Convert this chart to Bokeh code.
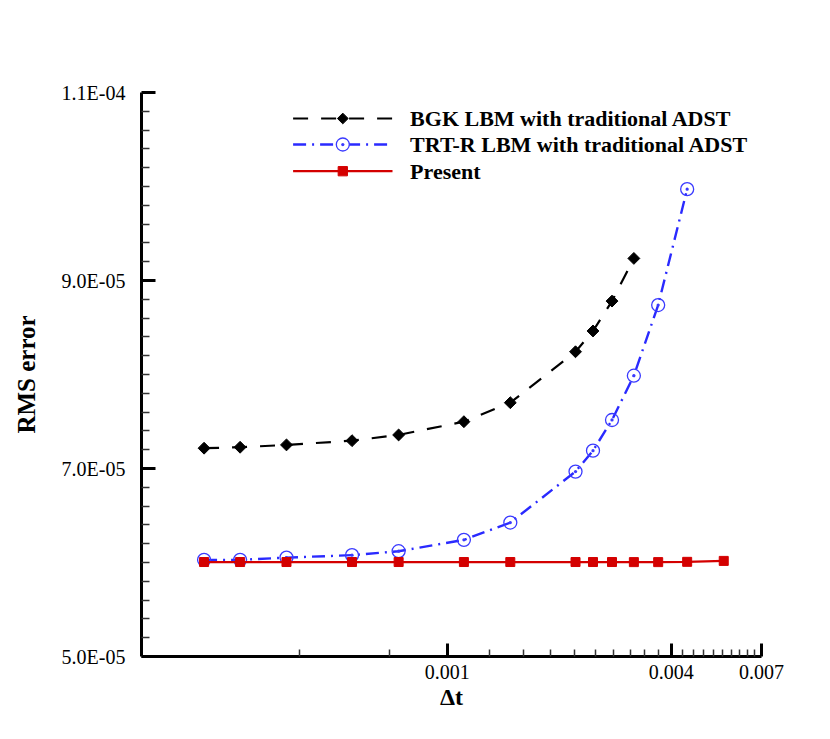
import numpy as np
from bokeh.plotting import figure
from bokeh.models import Range1d, FixedTicker, CustomJSTickFormatter, LinearScale
from bokeh.core.properties import value
from bokeh.embed import file_html
from bokeh.resources import INLINE

# ---- data ----
bgk_dt = [0.0002216, 0.000277, 0.0003692, 0.0005541, 0.0007395, 0.001108,
          0.001477, 0.002212, 0.002465, 0.002773, 0.003175]
bgk_rms = [7.216e-5, 7.226e-5, 7.251e-5, 7.296e-5, 7.357e-5, 7.498e-5,
           7.700e-5, 8.242e-5, 8.463e-5, 8.781e-5, 9.235e-5]

trt_dt = [0.0002216, 0.000277, 0.0003692, 0.0005541, 0.0007395, 0.001108,
          0.001477, 0.002212, 0.002465, 0.002773, 0.003175, 0.003691, 0.004417]
trt_rms = [6.028e-5, 6.028e-5, 6.052e-5, 6.078e-5, 6.120e-5, 6.241e-5,
           6.425e-5, 6.967e-5, 7.190e-5, 7.516e-5, 7.987e-5, 8.739e-5, 9.972e-5]

present_dt = [0.0002216, 0.000277, 0.0003692, 0.0005541, 0.0007395, 0.001108,
              0.001477, 0.002212, 0.002465, 0.002773, 0.003175, 0.003691,
              0.004417, 0.00554]
present_rms = [6.005e-5, 6.005e-5, 6.005e-5, 6.005e-5, 6.005e-5, 6.005e-5,
               6.005e-5, 6.005e-5, 6.005e-5, 6.005e-5, 6.004e-5, 6.004e-5,
               6.007e-5, 6.017e-5]

series_labels = ["BGK LBM with traditional ADST",
                 "TRT-R LBM with traditional ADST",
                 "Present"]

x_ticks = [0.001, 0.004, 0.007]
x_tick_labels = ["0.001", "0.004", "0.007"]
x_minor = [0.0004, 0.0007, 0.0013, 0.0016, 0.0019, 0.0022, 0.0025, 0.0028,
           0.0031, 0.0034, 0.0037, 0.0043, 0.0046, 0.0049, 0.0052, 0.0055,
           0.0058, 0.0061, 0.0064, 0.0067]
y_ticks = [5e-5, 7e-5, 9e-5, 1.1e-4]
y_tick_labels = ["5.0E-05", "7.0E-05", "9.0E-05", "1.1E-04"]
y_minor = [v * 1e-6 for v in range(50, 111, 2) if v not in (50, 70, 90, 110)]

FONT = "Liberation Serif"
FRAME_W, FRAME_H = 620, 564

# colours / styles
BGK_C, TRT_C, PRE_C = "black", "#2a2aff", "#d40000"
BGK_DASH, TRT_DASH = "15 13", "13 6 2 6"

p = figure(width=814, height=722, x_axis_type="log",
           x_range=Range1d(0.0001504, 0.007), y_range=Range1d(5e-5, 1.1e-4),
           output_backend="svg", toolbar_location=None,
           min_border_left=141, min_border_right=53,
           min_border_top=92, min_border_bottom=66)
p.grid.visible = False
p.outline_line_color = None
p.background_fill_color = "white"
p.border_fill_color = "white"

# pixel-like linear ranges for the hand-made legend
p.extra_x_ranges = {"px": Range1d(0, FRAME_W)}
p.extra_y_ranges = {"px": Range1d(0, FRAME_H)}
p.extra_x_scales = {"px": LinearScale()}
p.extra_y_scales = {"px": LinearScale()}

# BGK
p.line(bgk_dt, bgk_rms, line_color=BGK_C, line_width=2.2, line_dash=BGK_DASH)
p.scatter(bgk_dt, bgk_rms, marker="square", size=8.4, angle=np.pi / 4,
          fill_color=BGK_C, line_color=BGK_C)
# TRT-R
p.line(trt_dt, trt_rms, line_color=TRT_C, line_width=2.4, line_dash=TRT_DASH)
p.scatter(trt_dt, trt_rms, marker="circle_dot", size=13,
          fill_color=None, line_color="#3a3aff", line_width=1.3)
# Present
p.line(present_dt, present_rms, line_color=PRE_C, line_width=2.2)
p.scatter(present_dt, present_rms, marker="square", size=9,
          fill_color=PRE_C, line_color=PRE_C)

# ---- legend (frame pixel units) ----
leg_x0, leg_x1, leg_text_x = 151.6, 251.0, 268.6
leg_rows = [538.0, 512.0, 485.3]
leg_mid = (leg_x0 + leg_x1) / 2
kw = dict(x_range_name="px", y_range_name="px")
p.line([leg_x0, leg_x1], [leg_rows[0]] * 2, line_color=BGK_C, line_width=2.2,
       line_dash=BGK_DASH, **kw)
p.scatter([leg_mid], [leg_rows[0]], marker="square", size=7.6, angle=np.pi / 4,
          fill_color=BGK_C, line_color=BGK_C, **kw)
p.line([leg_x0, leg_x1], [leg_rows[1]] * 2, line_color=TRT_C, line_width=2.4,
       line_dash=TRT_DASH, **kw)
p.scatter([leg_mid], [leg_rows[1]], marker="circle_dot", size=13,
          fill_color="white", line_color="#3a3aff", line_width=1.3, **kw)
p.line([leg_x0, leg_x1], [leg_rows[2]] * 2, line_color=PRE_C, line_width=2.2, **kw)
p.scatter([leg_mid], [leg_rows[2]], marker="square", size=9.3,
          fill_color=PRE_C, line_color=PRE_C, **kw)
p.text([leg_text_x] * 3, leg_rows, text=series_labels,
       text_font=value(FONT), text_font_style="bold", text_font_size="22px",
       text_color="black", text_baseline="middle", text_align="left", **kw)

# ---- axes ----
fmt_code = """
let best = 0;
for (let i = 0; i < tick_vals.length; i++) {
  if (Math.abs(tick_vals[i] - tick) < Math.abs(tick_vals[best] - tick)) best = i;
}
return tick_labs[best];
"""
xa = p.xaxis[0]
xa.ticker = FixedTicker(ticks=x_ticks, minor_ticks=x_minor)
xa.formatter = CustomJSTickFormatter(args=dict(tick_vals=x_ticks, tick_labs=x_tick_labels),
                                     code=fmt_code)
ya = p.yaxis[0]
ya.ticker = FixedTicker(ticks=y_ticks, minor_ticks=y_minor)
ya.formatter = CustomJSTickFormatter(args=dict(tick_vals=y_ticks, tick_labs=y_tick_labels),
                                     code=fmt_code)

for ax in (xa, ya):
    ax.axis_line_width = 3
    ax.axis_line_color = "black"
    ax.major_tick_in = 14
    ax.major_tick_out = 0
    ax.minor_tick_in = 8
    ax.minor_tick_out = 0
    ax.major_tick_line_width = 3
    ax.major_tick_line_color = "black"
    ax.minor_tick_line_width = 1.5
    ax.minor_tick_line_color = "#333333"
    ax.major_label_text_font = FONT
    ax.major_label_text_font_size = "20px"
    ax.major_label_text_color = "black"
    ax.axis_label_text_font = FONT
    ax.axis_label_text_font_style = "bold"
    ax.axis_label_text_color = "black"

xa.major_tick_in = 13
xa.minor_tick_in = 7
xa.major_label_standoff = 8
xa.axis_label = "Δt"
xa.axis_label_text_font_size = "24px"
xa.axis_label_standoff = 2
ya.major_label_standoff = 16
ya.axis_label = "RMS error"
ya.axis_label_text_font_size = "25px"
ya.axis_label_standoff = 19

open("out.html", "w").write(file_html(p, INLINE))
